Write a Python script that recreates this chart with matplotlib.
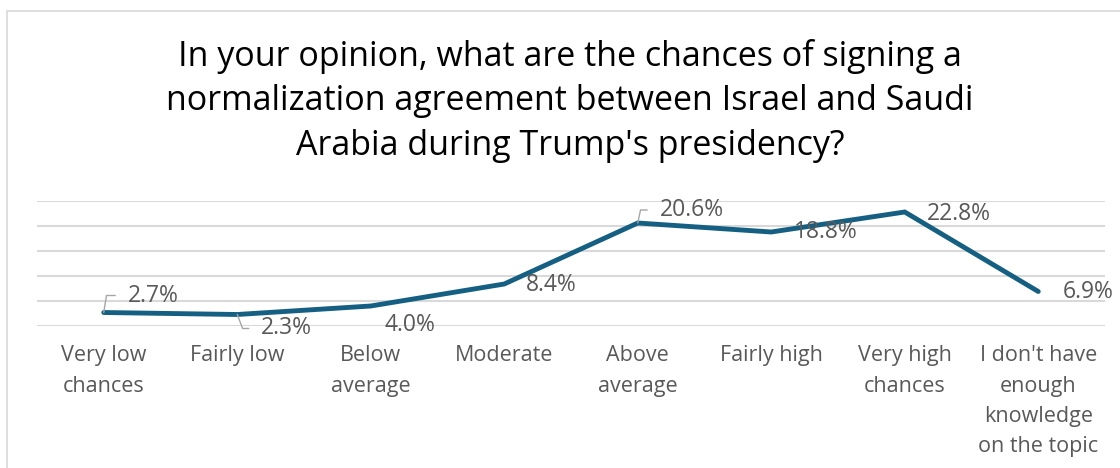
import matplotlib.pyplot as plt
from matplotlib.patches import Rectangle

categories = ["Very low\nchances", "Fairly low", "Below\naverage", "Moderate",
              "Above\naverage", "Fairly high", "Very high\nchances",
              "I don't have\nenough\nknowledge\non the topic"]
values = [2.7, 2.3, 4.0, 8.4, 20.6, 18.8, 22.8, 6.9]
labels = ["2.7%", "2.3%", "4.0%", "8.4%", "20.6%", "18.8%", "22.8%", "6.9%"]

# label offsets in pixels (x right, y up) and leader angle (None = no leader)
label_offsets = [(24, 17), (24, -14), (14, -19), (22, -1),
                 (22, 13), (23, 0), (22, -2), (24, -1)]
leader_angles = [81, -69, None, None, 78, None, None, None]

title = ("In your opinion, what are the chances of signing a\n"
         "normalization agreement between Israel and Saudi\n"
         "Arabia during Trump's presidency?")

line_color = "#156082"
text_gray = "#595959"
grid_gray = "#d9d9d9"

plt.rcParams['font.family'] = ['Open Sans', 'DejaVu Sans']

fig = plt.figure(figsize=(11.2, 4.68), dpi=100)
ax = fig.add_axes([37 / 1120, 1 - 326 / 468, 1068 / 1120, 125 / 468])

x = list(range(len(values)))
ax.plot(x, values, color=line_color, lw=3.5, solid_capstyle="round",
        solid_joinstyle="miter", zorder=3)

for i, (v, lab) in enumerate(zip(values, labels)):
    dx, dy = label_offsets[i]
    ang = leader_angles[i]
    arrow = None
    if ang is not None:
        arrow = dict(arrowstyle="-", color="#a6a6a6", lw=1,
                     shrinkA=7, shrinkB=0, relpos=(0, 0.5),
                     connectionstyle=f"angle,angleA=0,angleB={ang},rad=0")
    ax.annotate(lab, (i, v), xytext=(dx, dy), textcoords="offset pixels",
                ha="left", va="center", fontsize=16.5, color=text_gray,
                arrowprops=arrow, zorder=4)

ax.set_xlim(-0.5, len(values) - 0.5)
ax.set_ylim(0, 25)
ax.set_yticks([0, 5, 10, 15, 20, 25])
ax.yaxis.grid(True, color=grid_gray, lw=1.5)
ax.set_axisbelow(True)
ax.tick_params(axis="y", left=False, labelleft=False)
ax.tick_params(axis="x", length=0, pad=14)
ax.set_xticks(x)
ax.set_xticklabels(categories, fontsize=15.5, color=text_gray, linespacing=1.58)
for s in ax.spines.values():
    s.set_visible(False)

fig.text(0.509, 1 - 101 / 468, title, ha="center", va="center",
         fontsize=24.5, color="black", linespacing=1.42)

fig.patches.append(Rectangle((7 / 1120, -0.1), 1.2, 1.1 - 11 / 468 + 0.0,
                             transform=fig.transFigure, fill=False,
                             edgecolor=grid_gray, lw=1.2))

fig.savefig("out.png", dpi=100)
